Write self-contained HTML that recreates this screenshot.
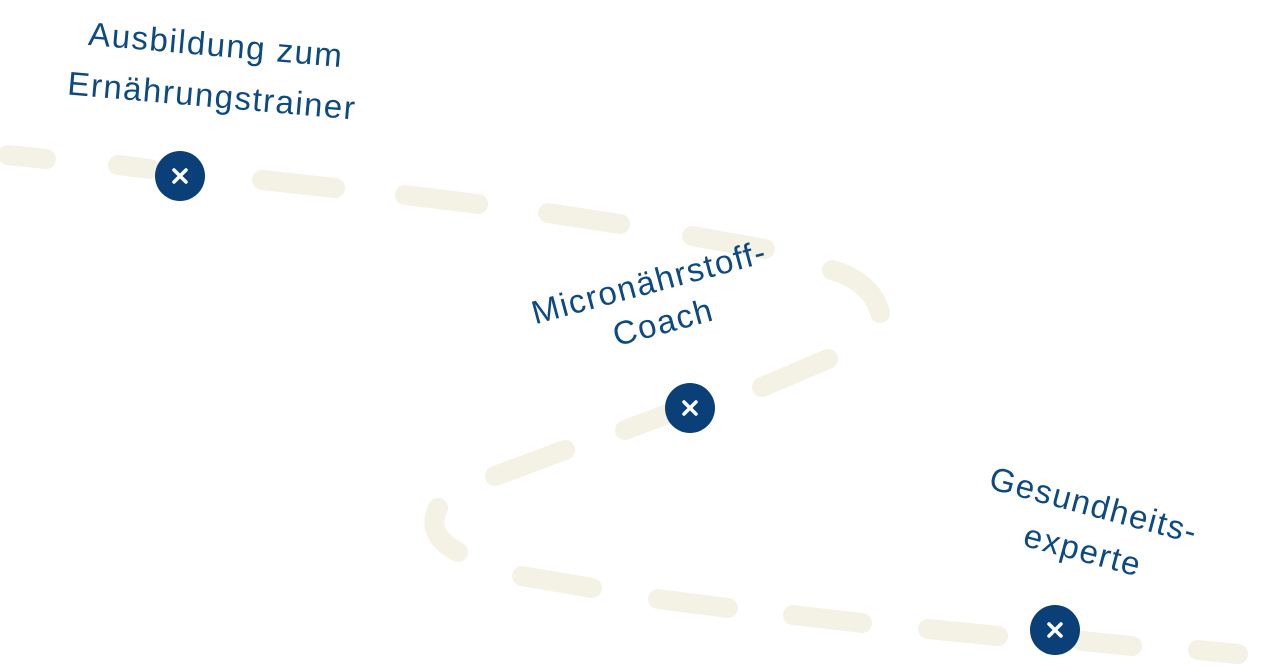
<!DOCTYPE html>
<html><head><meta charset="utf-8"><style>
html,body{margin:0;padding:0;background:#fff;width:1280px;height:666px;overflow:hidden}
svg{display:block}
text{font-family:"Liberation Sans",sans-serif;font-size:33px;letter-spacing:1.5px;fill:#0d4a82;text-anchor:middle}
</style></head><body>
<svg width="1280" height="666" viewBox="0 0 1280 666">
<g stroke="#f4f2e4" stroke-width="20" stroke-linecap="round" fill="none">
<line x1="8" y1="155" x2="46" y2="159"/>
<line x1="118" y1="165" x2="150" y2="169"/>
<line x1="262" y1="180" x2="335" y2="188"/>
<line x1="405" y1="195" x2="478" y2="204"/>
<line x1="548" y1="213" x2="620" y2="224"/>
<line x1="692" y1="236" x2="765" y2="249"/>
<path d="M832 270 Q872 282 880 313"/>
<line x1="828" y1="359" x2="762" y2="387"/>
<line x1="665" y1="415" x2="625" y2="430"/>
<line x1="565" y1="450" x2="495" y2="476"/>
<path d="M438 508 Q425 535 458 552"/>
<line x1="522" y1="576" x2="592" y2="588"/>
<line x1="658" y1="599" x2="728" y2="608"/>
<line x1="793" y1="615" x2="862" y2="623"/>
<line x1="928" y1="629" x2="998" y2="636"/>
<line x1="1082" y1="641" x2="1132" y2="646"/>
<line x1="1198" y1="650" x2="1238" y2="654"/>
</g>
<g fill="#0a3f78">
<circle cx="180" cy="176" r="25"/>
<circle cx="690" cy="408" r="25"/>
<circle cx="1055" cy="630" r="25"/>
</g>
<g stroke="#fff" stroke-width="3.5" stroke-linecap="round">
<path d="M174 170 L186 182 M186 170 L174 182"/>
<path d="M684 402 L696 414 M696 402 L684 414"/>
<path d="M1049 624 L1061 636 M1061 624 L1049 636"/>
</g>
<text transform="translate(215,56) rotate(5)">Ausbildung zum</text>
<text transform="translate(211,107) rotate(5)">Ernährungstrainer</text>
<text transform="translate(652,293) rotate(-15)">Micronährstoff-</text>
<text transform="translate(666,333) rotate(-15)">Coach</text>
<text transform="translate(1091,516) rotate(15)">Gesundheits-</text>
<text transform="translate(1080,561) rotate(15)">experte</text>
</svg>
</body></html>
